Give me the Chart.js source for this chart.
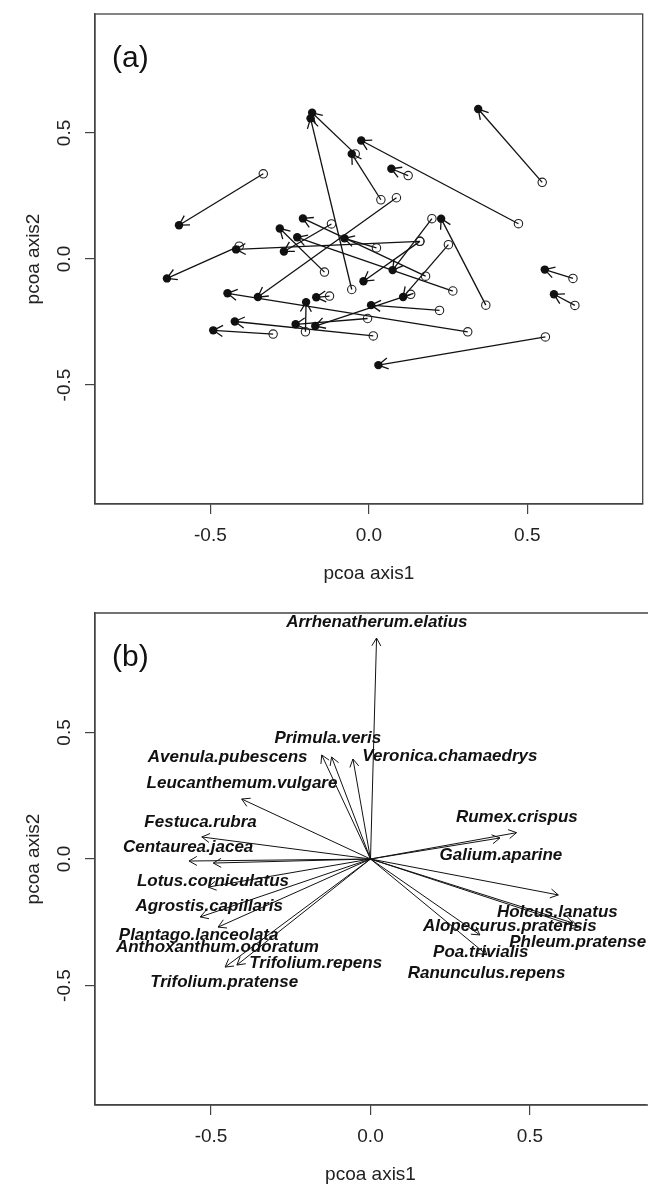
<!DOCTYPE html>
<html>
<head>
<meta charset="utf-8">
<script src="https://cdn.jsdelivr.net/npm/chart.js@4.4.1/dist/chart.umd.min.js"></script>
<style>
  html, body { margin: 0; padding: 0; background: #fff; }
  canvas { display: block; }
</style>
</head>
<body>
<canvas id="chartA" width="648" height="593"></canvas>
<canvas id="chartB" width="648" height="593"></canvas>
<script>
// panel (a): each arrow runs from an open circle (start) to a filled circle (end)
const startX = [-0.333, -0.118, -0.140, -0.409, -0.054, -0.043, 0.038, 0.124, 0.547, 0.472,
                0.161, 0.369, 0.650, 0.557, 0.644, 0.087, -0.302, -0.124, -0.200, 0.014,
                0.312, 0.199, 0.223, 0.265, 0.179, 0.251, 0.132, -0.004, 0.024, 0.161];
const startY = [0.338, 0.139, -0.052, 0.051, -0.121, 0.417, 0.235, 0.331, 0.304, 0.140,
                0.070, -0.183, -0.184, -0.309, -0.077, 0.243, -0.298, -0.147, -0.289, -0.305,
                -0.289, 0.160, -0.204, -0.127, -0.068, 0.057, -0.140, -0.236, 0.044, 0.070];
const endX = [-0.599, -0.268, -0.281, -0.637, -0.184, -0.179, -0.054, 0.071, 0.345, -0.024,
              -0.419, 0.228, 0.584, 0.030, 0.555, -0.350, -0.491, -0.166, -0.198, -0.423,
              -0.446, 0.075, 0.007, -0.226, -0.208, 0.108, -0.169, -0.231, -0.077, -0.017];
const endY = [0.134, 0.030, 0.121, -0.077, 0.558, 0.580, 0.417, 0.358, 0.595, 0.470,
              0.038, 0.160, -0.140, -0.421, -0.042, -0.151, -0.283, -0.152, -0.171, -0.248,
              -0.136, -0.044, -0.183, 0.086, 0.161, -0.151, -0.266, -0.259, 0.082, -0.088];

// panel (b): species vectors from the origin, and where their names sit
const species = ["Arrhenatherum.elatius", "Primula.veris", "Avenula.pubescens", "Veronica.chamaedrys",
                 "Leucanthemum.vulgare", "Festuca.rubra", "Centaurea.jacea", "Lotus.corniculatus",
                 "Agrostis.capillaris", "Plantago.lanceolata", "Anthoxanthum.odoratum", "Trifolium.repens",
                 "Trifolium.pratense", "Rumex.crispus", "Galium.aparine", "Holcus.lanatus",
                 "Alopecurus.pratensis", "Phleum.pratense", "Poa.trivialis", "Ranunculus.repens"];
const vecX = [0.019, -0.122, -0.153, -0.055, -0.404, -0.529, -0.569, -0.493, -0.509, -0.534,
              -0.478, -0.419, -0.456, 0.458, 0.406, 0.589, 0.635, 0.651, 0.343, 0.365];
const vecY = [0.873, 0.403, 0.411, 0.395, 0.237, 0.087, -0.008, -0.016, -0.111, -0.229,
              -0.269, -0.419, -0.427, 0.104, 0.083, -0.142, -0.253, -0.269, -0.300, -0.379];
const labelX = [0.020, -0.134, -0.448, 0.249, -0.403, -0.533, -0.572, -0.494, -0.506, -0.539,
                -0.480, -0.172, -0.459, 0.459, 0.409, 0.586, 0.437, 0.650, 0.346, 0.364];
const labelY = [0.937, 0.478, 0.403, 0.407, 0.300, 0.146, 0.047, -0.087, -0.186, -0.300,
                -0.348, -0.411, -0.486, 0.166, 0.016, -0.209, -0.265, -0.328, -0.368, -0.451];

const axisTicks = [-0.5, 0, 0.5];
const tickLabels = ["-0.5", "0.0", "0.5"];
const xLimit = 0.864;
const yLimit = 0.972;
const xTitle = "pcoa axis1";
const yTitle = "pcoa axis2";

const FONT = '"Liberation Sans", Arial, Helvetica, sans-serif';
const INK = "#111";
const FRAME = "#444";

// R-style box, rotated y tick labels, axis titles and panel letter
function rFrame(letter, openRight) {
    return {
        id: "rFrame",
        afterDraw(chart) {
            const { ctx, chartArea: a, scales } = chart;
            ctx.save();
            ctx.strokeStyle = FRAME;
            ctx.lineWidth = 1.3;
            if (openRight) {
                ctx.beginPath();
                ctx.moveTo(chart.width, a.top);
                ctx.lineTo(a.left, a.top);
                ctx.lineTo(a.left, a.bottom);
                ctx.lineTo(chart.width, a.bottom);
                ctx.stroke();
            } else {
                ctx.strokeRect(a.left, a.top, a.right - a.left, a.bottom - a.top);
            }

            ctx.fillStyle = "#222";
            ctx.font = `19px ${FONT}`;
            ctx.textAlign = "center";
            ctx.textBaseline = "alphabetic";
            axisTicks.forEach((v, i) => {
                ctx.save();
                ctx.translate(a.left - 25, scales.y.getPixelForValue(v));
                ctx.rotate(-Math.PI / 2);
                ctx.fillText(tickLabels[i], 0, 0);
                ctx.restore();
            });

            ctx.fillText(xTitle, (a.left + a.right) / 2, a.bottom + 75);
            ctx.save();
            ctx.translate(a.left - 56, (a.top + a.bottom) / 2);
            ctx.rotate(-Math.PI / 2);
            ctx.fillText(yTitle, 0, 0);
            ctx.restore();

            ctx.font = `30px ${FONT}`;
            ctx.textAlign = "left";
            ctx.fillStyle = INK;
            ctx.fillText(letter, a.left + 17, a.top + 53);
            ctx.restore();
        },
    };
}

// open "V" heads at the end point of every dataset that has headLength set
const arrowHeads = {
    id: "arrowHeads",
    afterDatasetsDraw(chart) {
        const ctx = chart.ctx;
        chart.data.datasets.forEach((ds, i) => {
            if (!ds.headLength) return;
            const pts = chart.getDatasetMeta(i).data;
            const p0 = pts[0];
            const p1 = pts[pts.length - 1];
            const ang = Math.atan2(p1.y - p0.y, p1.x - p0.x);
            ctx.save();
            ctx.strokeStyle = ds.borderColor;
            ctx.lineWidth = ds.borderWidth;
            ctx.beginPath();
            [-1, 1].forEach((s) => {
                ctx.moveTo(p1.x, p1.y);
                ctx.lineTo(
                    p1.x - ds.headLength * Math.cos(ang + (s * Math.PI) / 6),
                    p1.y - ds.headLength * Math.sin(ang + (s * Math.PI) / 6)
                );
            });
            ctx.stroke();
            ctx.restore();
        });
    },
};

const speciesLabels = {
    id: "speciesLabels",
    afterDatasetsDraw(chart) {
        const { ctx, scales } = chart;
        ctx.save();
        ctx.font = `italic bold 17px ${FONT}`;
        ctx.fillStyle = INK;
        ctx.textAlign = "center";
        ctx.textBaseline = "middle";
        species.forEach((name, i) => {
            ctx.fillText(name, scales.x.getPixelForValue(labelX[i]), scales.y.getPixelForValue(labelY[i]));
        });
        ctx.restore();
    },
};

function makeScales(xAxisHeight) {
    const grid = { drawOnChartArea: false, drawTicks: true, tickLength: 10, color: FRAME, lineWidth: 1.2 };
    const border = { display: true, color: FRAME, width: 1.3 };
    return {
        x: {
            type: "linear",
            min: -xLimit,
            max: xLimit,
            afterBuildTicks: (s) => { s.ticks = axisTicks.map((v) => ({ value: v })); },
            afterFit: (s) => { s.height = xAxisHeight; },
            grid: grid,
            border: border,
            ticks: {
                padding: 10,
                maxRotation: 0,
                autoSkip: false,
                color: "#222",
                font: { family: FONT, size: 19 },
                callback: (v) => tickLabels[axisTicks.indexOf(v)],
            },
        },
        y: {
            type: "linear",
            min: -yLimit,
            max: yLimit,
            afterBuildTicks: (s) => { s.ticks = axisTicks.map((v) => ({ value: v })); },
            afterFit: (s) => { s.width = 95; },
            grid: grid,
            border: border,
            ticks: { display: false },
        },
    };
}

const baseOptions = {
    responsive: false,
    animation: false,
    devicePixelRatio: 1,
    events: [],
    plugins: { legend: { display: false }, tooltip: { enabled: false } },
};

// ---- panel (a)
const arrowSetsA = startX.map((x0, i) => ({
    type: "scatter",
    showLine: true,
    data: [{ x: x0, y: startY[i] }, { x: endX[i], y: endY[i] }],
    borderColor: INK,
    borderWidth: 1.3,
    pointRadius: 0,
    headLength: 11,
}));

new Chart(document.getElementById("chartA"), {
    type: "scatter",
    data: {
        datasets: [
            {
                data: endX.map((x, i) => ({ x: x, y: endY[i] })),
                pointRadius: 4.2,
                backgroundColor: INK,
                borderColor: INK,
                borderWidth: 0,
            },
            {
                data: startX.map((x, i) => ({ x: x, y: startY[i] })),
                pointRadius: 4.2,
                backgroundColor: "rgba(0,0,0,0)",
                borderColor: "#222",
                borderWidth: 1.1,
            },
            ...arrowSetsA,
        ],
    },
    options: {
        ...baseOptions,
        layout: { padding: { top: 14, right: 2, bottom: 0, left: 0 } },
        scales: makeScales(89),
    },
    plugins: [arrowHeads, rFrame("(a)", false)],
});

// ---- panel (b)
const arrowSetsB = species.map((name, i) => ({
    type: "scatter",
    label: name,
    showLine: true,
    data: [{ x: 0, y: 0 }, { x: vecX[i], y: vecY[i] }],
    borderColor: INK,
    borderWidth: 1,
    pointRadius: 0,
    headLength: 9,
}));

new Chart(document.getElementById("chartB"), {
    type: "scatter",
    data: { datasets: arrowSetsB },
    options: {
        ...baseOptions,
        layout: { padding: { top: 20, right: 2, bottom: 0, left: 0 } },
        scales: makeScales(81),
    },
    plugins: [arrowHeads, speciesLabels, rFrame("(b)", true)],
});
</script>
</body>
</html>
